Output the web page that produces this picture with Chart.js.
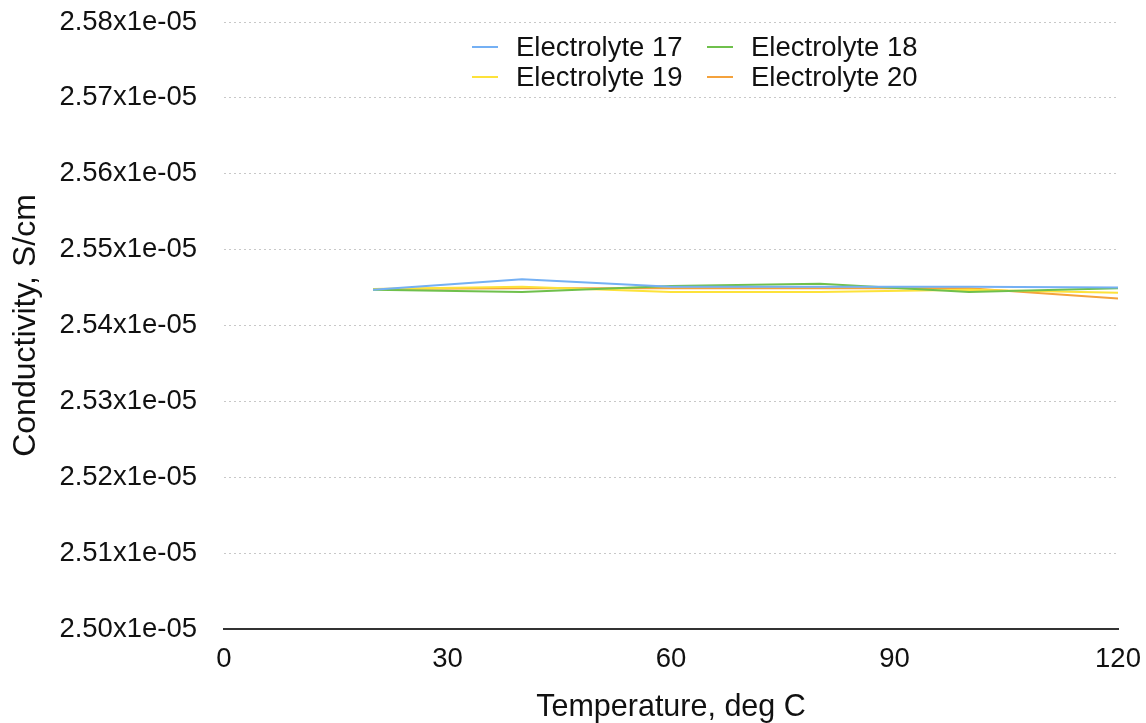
<!DOCTYPE html>
<html>
<head>
<meta charset="utf-8">
<script src="https://cdn.jsdelivr.net/npm/chart.js@4.4.1/dist/chart.umd.min.js"></script>
<style>
  html, body { margin: 0; padding: 0; background: #ffffff; }
  #wrap { width: 1146px; height: 723px; }
</style>
</head>
<body>
<div id="wrap"><canvas id="c" width="1146" height="723"></canvas></div>
<script>
// Data (Conductivity in S/cm vs temperature in deg C)
const temperatures = [20, 40, 60, 80, 100, 120];
const electrolyte17 = [2.5447e-5, 2.5461e-5, 2.5451e-5, 2.5451e-5, 2.5451e-5, 2.5450e-5];
const electrolyte18 = [2.5447e-5, 2.5444e-5, 2.5452e-5, 2.5455e-5, 2.5444e-5, 2.5449e-5];
const electrolyte19 = [2.5448e-5, 2.5451e-5, 2.5444e-5, 2.5444e-5, 2.5447e-5, 2.5443e-5];
const electrolyte20 = [2.5448e-5, 2.5449e-5, 2.5449e-5, 2.5449e-5, 2.5449e-5, 2.54357e-5];
const seriesNames = ['Electrolyte 17', 'Electrolyte 18', 'Electrolyte 19', 'Electrolyte 20'];
const seriesColors = ['#74b0f4', '#6fc04c', '#fde23a', '#f4a23c'];
const xTicks = [0, 30, 60, 90, 120];
const yMin = 2.50e-5, yMax = 2.58e-5, yStep = 0.01e-5;

const FONT = '"Liberation Sans", Arial, Helvetica, sans-serif';
const allSeries = [electrolyte17, electrolyte18, electrolyte19, electrolyte20];

const datasets = allSeries.map((vals, i) => ({
  label: seriesNames[i],
  data: temperatures.map((t, j) => ({ x: t, y: vals[j] })),
  borderColor: seriesColors[i],
  backgroundColor: seriesColors[i],
  borderWidth: 2,
  pointRadius: 0,
  tension: 0,
  fill: false
}));

// Custom legend drawn inside the plot area (2 x 2 grid)
const insideLegend = {
  id: 'insideLegend',
  afterDraw(chart) {
    const ctx = chart.ctx;
    const cols = [472, 707];
    const rows = [47, 77];
    ctx.save();
    ctx.font = '27.5px ' + FONT;
    ctx.textBaseline = 'middle';
    ctx.textAlign = 'left';
    chart.data.datasets.forEach((ds, i) => {
      const cx = cols[i % 2];
      const cy = rows[Math.floor(i / 2)];
      ctx.strokeStyle = ds.borderColor;
      ctx.lineWidth = 2;
      ctx.beginPath();
      ctx.moveTo(cx, cy);
      ctx.lineTo(cx + 26, cy);
      ctx.stroke();
      ctx.fillStyle = '#111111';
      ctx.fillText(ds.label, cx + 44, cy + 1);
    });
    ctx.restore();
  }
};

function noPad(scale) {
  scale.paddingTop = 0;
  scale.paddingBottom = 0;
  scale.paddingLeft = 0;
  scale.paddingRight = 0;
}

new Chart(document.getElementById('c'), {
  type: 'line',
  data: { datasets },
  plugins: [insideLegend],
  options: {
    responsive: false,
    animation: false,
    layout: { padding: { top: 22, right: 28, left: 0, bottom: 0 } },
    plugins: {
      legend: { display: false },
      tooltip: { enabled: false }
    },
    scales: {
      x: {
        type: 'linear',
        min: 0,
        max: 120,
        afterBuildTicks(scale) { scale.ticks = xTicks.map(v => ({ value: v })); },
        afterFit(scale) { scale.height = 94; noPad(scale); },
        grid: { display: false, drawTicks: false },
        border: { display: true, color: '#333333', width: 2 },
        ticks: {
          color: '#111111',
          font: { family: FONT, size: 27.5 },
          padding: 14,
          maxRotation: 0,
          autoSkip: false
        },
        title: {
          display: true,
          text: 'Temperature, deg C',
          color: '#111111',
          font: { family: FONT, size: 30.5, lineHeight: 1.0 },
          padding: { top: 0, bottom: 0 }
        }
      },
      y: {
        type: 'linear',
        min: yMin,
        max: yMax,
        afterFit(scale) { scale.width = 224; noPad(scale); },
        grid: {
          color: '#c8c8c8',
          lineWidth: 1,
          drawTicks: false
        },
        border: { display: false, dash: [2, 3] },
        ticks: {
          stepSize: yStep,
          color: '#111111',
          font: { family: FONT, size: 27.5 },
          padding: 27,
          callback: (v) => (v * 1e5).toFixed(2) + 'x1e-05'
        },
        title: {
          display: true,
          text: 'Conductivity, S/cm',
          color: '#111111',
          font: { family: FONT, size: 32, lineHeight: 1.2 },
          padding: { top: 7, bottom: 0 }
        }
      }
    }
  }
});
</script>
</body>
</html>
